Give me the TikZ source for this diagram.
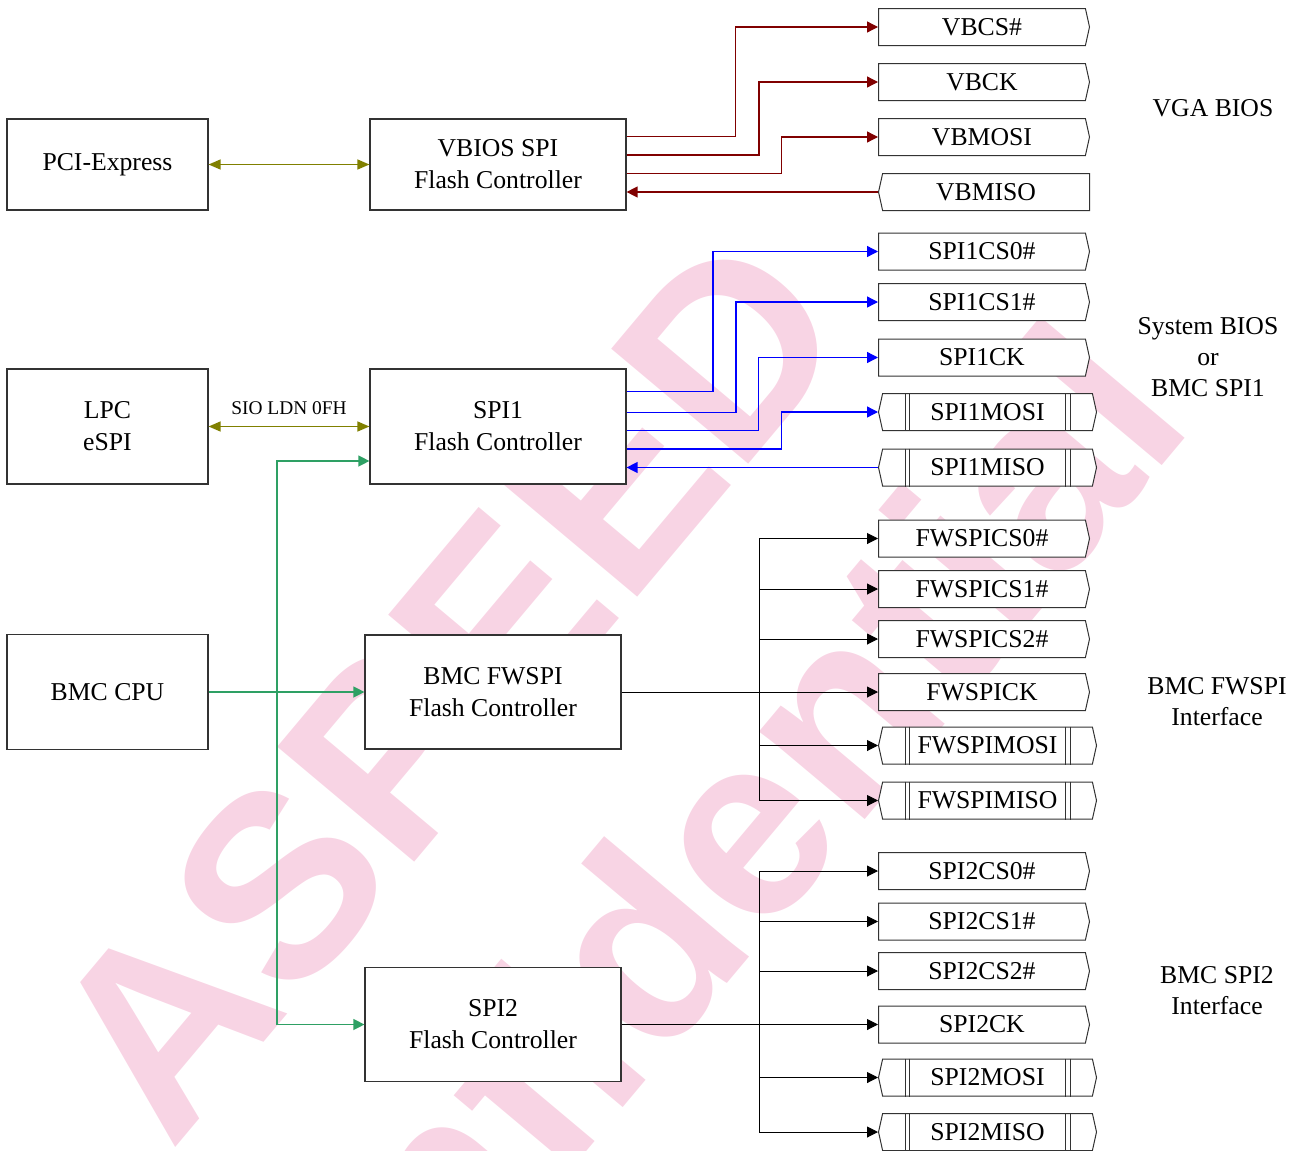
\documentclass[tikz,border=0pt]{standalone}
\usepackage{fontspec}
\setmainfont{Liberation Serif}
\newfontfamily\markfont{Liberation Sans}
\usetikzlibrary{arrows.meta,shapes.symbols}

\definecolor{vgared}{RGB}{128,0,0}
\definecolor{spiblue}{RGB}{0,0,255}
\definecolor{busolive}{RGB}{128,128,0}
\definecolor{bmcgreen}{RGB}{46,160,100}
\definecolor{markpink}{RGB}{248,212,228}

\begin{document}
\begin{tikzpicture}[
    x=0.5pt, y=-0.5pt,
    every node/.style={font=\fontsize{12.85}{16}\selectfont},
    block/.style={draw=black!80, fill=white, line width=0.6pt, align=center, minimum width=100.5pt, minimum height=57.5pt, inner sep=0pt},
    ctrl/.style={block, minimum width=128pt},
    pinout/.style={signal, signal to=east, signal pointer angle=155, draw=black!80, fill=white, line width=0.5pt, minimum width=105.5pt, minimum height=18.5pt, inner sep=0pt, anchor=west},
    pinin/.style={pinout, signal to=west},
    pinio/.style={pinout, signal to=east and west, minimum width=109pt},
    pinline/.style={draw=black!80, line width=0.5pt},
    group/.style={align=center, font=\fontsize{12.85}{15.5}\selectfont},
    watermark/.style={anchor=base, rotate=50, text=markpink, inner sep=0pt, font=\markfont\bfseries\fontsize{130}{150}\selectfont},
    wire/.style={line width=0.5pt},
    sig/.style={-{Triangle[length=5.5pt,width=5.5pt]}, line width=0.5pt},
    colsig/.style={sig, line width=0.65pt},
    olivewire/.style={{Triangle[length=6pt,width=5pt]}-{Triangle[length=6pt,width=5pt]}, line width=0.65pt, busolive}
]
\useasboundingbox (0,0) rectangle (1301,1151);

% watermark
\begin{scope}
  \clip (0,0) rectangle (1301,1151);
  \node[watermark] (wmtop) at (515,743) {ASPEED};
  \node[watermark] (wmbottom) at (714,999.5) {Confidential};
\end{scope}

% blocks
\node[block, minimum height=45.5pt] (pcie) at (107.5,164.5) {PCI-Express};
\node[ctrl, minimum height=45.5pt] (vbios) at (498,164.5) {VBIOS SPI\\Flash Controller};
\node[block] (lpc) at (107.5,426.5) {LPC\\eSPI};
\node[ctrl] (spi1) at (498,426.5) {SPI1\\Flash Controller};
\node[block] (bmccpu) at (107.5,692) {BMC CPU};
\node[ctrl, minimum height=57pt] (fwspi) at (493,692) {BMC FWSPI\\Flash Controller};
\node[ctrl, minimum height=57pt] (spi2) at (493,1024.5) {SPI2\\Flash Controller};

% pins
\node[pinout] (vbcs) at (878,27) {VBCS\#};
\node[pinout] (vbck) at (878,82) {VBCK};
\node[pinout] (vbmosi) at (878,137) {VBMOSI};
\node[pinin] (vbmiso) at (878,192) {VBMISO};

\node[pinout] (spi1cs0) at (878,251.5) {SPI1CS0\#};
\node[pinout] (spi1cs1) at (878,302) {SPI1CS1\#};
\node[pinout] (spi1ck) at (878,357.5) {SPI1CK};
\node[pinio] (spi1mosi) at (878,412) {SPI1MOSI};
\node[pinio] (spi1miso) at (878,467.5) {SPI1MISO};

\node[pinout] (fwcs0) at (878,538.5) {FWSPICS0\#};
\node[pinout] (fwcs1) at (878,589) {FWSPICS1\#};
\node[pinout] (fwcs2) at (878,639) {FWSPICS2\#};
\node[pinout] (fwck) at (878,692) {FWSPICK};
\node[pinio] (fwmosi) at (878,745.5) {FWSPIMOSI};
\node[pinio] (fwmiso) at (878,800.5) {FWSPIMISO};

\node[pinout] (spi2cs0) at (878,871) {SPI2CS0\#};
\node[pinout] (spi2cs1) at (878,921.5) {SPI2CS1\#};
\node[pinout] (spi2cs2) at (878,971) {SPI2CS2\#};
\node[pinout] (spi2ck) at (878,1024.5) {SPI2CK};
\node[pinio] (spi2mosi) at (878,1077.5) {SPI2MOSI};
\node[pinio] (spi2miso) at (878,1132) {SPI2MISO};

\foreach \p in {spi1mosi,spi1miso,fwmosi,fwmiso,spi2mosi,spi2miso} {
  \foreach \d in {13.5pt,15.75pt} {
    \draw[pinline] ([xshift=\d]\p.west |- \p.north) -- ([xshift=\d]\p.west |- \p.south);
    \draw[pinline] ([xshift=-\d]\p.east |- \p.north) -- ([xshift=-\d]\p.east |- \p.south);
  }
}

% group labels
\node[group] (vgalbl) at (1213,108) {VGA BIOS};
\node[group] (syslbl) at (1208,357) {System BIOS\\or\\BMC SPI1};
\node[group] (fwlbl) at (1217,701.5) {BMC FWSPI\\Interface};
\node[group] (spi2lbl) at (1217,990.5) {BMC SPI2\\Interface};

% host side
\draw[olivewire] (pcie.east) -- (vbios.west);
\draw[olivewire] (lpc.east) -- (spi1.west)
  node[midway, above=2.5pt, text=black, font=\fontsize{9.7}{12}\selectfont] (sioldn) {SIO LDN 0FH};

\coordinate (cpubus) at (277,692);
\draw[colsig, bmcgreen] (bmccpu.east) -- (fwspi.west);
\draw[colsig, bmcgreen] (cpubus) |- ([yshift=-17.25pt]spi1.west);
\draw[colsig, bmcgreen] (cpubus) |- (spi2.west);

% VGA BIOS
\draw[colsig, vgared] ([yshift=13.9pt]vbios.east) -| ([xshift=-71.15pt]vbcs.west) -- (vbcs.west);
\draw[colsig, vgared] ([yshift=4.75pt]vbios.east) -| ([xshift=-59.5pt]vbck.west) -- (vbck.west);
\draw[colsig, vgared] ([yshift=-4.4pt]vbios.east) -| ([xshift=-48.15pt]vbmosi.west) -- (vbmosi.west);
\draw[colsig, vgared] (vbmiso.west) -- (vbmiso.west -| vbios.east);

% SPI1
\draw[colsig, spiblue] ([yshift=17.6pt]spi1.east) -| ([xshift=-82.5pt]spi1cs0.west) -- (spi1cs0.west);
\draw[colsig, spiblue] ([yshift=7.1pt]spi1.east) -| ([xshift=-71pt]spi1cs1.west) -- (spi1cs1.west);
\draw[colsig, spiblue] ([yshift=-1.9pt]spi1.east) -| ([xshift=-59.65pt]spi1ck.west) -- (spi1ck.west);
\draw[colsig, spiblue] ([yshift=-11.25pt]spi1.east) -| ([xshift=-48.15pt]spi1mosi.west) -- (spi1mosi.west);
\draw[colsig, spiblue] (spi1miso.west) -- (spi1miso.west -| spi1.east);

% FWSPI
\coordinate (fwbus) at (759,692);
\draw[sig] (fwspi.east) -- (fwck.west);
\draw[wire] (fwbus |- fwcs0.west) -- (fwbus |- fwmiso.west);
\foreach \p in {fwcs0,fwcs1,fwcs2,fwmosi,fwmiso}
  \draw[sig] (fwbus |- \p.west) -- (\p.west);

% SPI2
\coordinate (spi2bus) at (759,1024.5);
\draw[sig] (spi2.east) -- (spi2ck.west);
\draw[wire] (spi2bus |- spi2cs0.west) -- (spi2bus |- spi2miso.west);
\foreach \p in {spi2cs0,spi2cs1,spi2cs2,spi2mosi,spi2miso}
  \draw[sig] (spi2bus |- \p.west) -- (\p.west);
\end{tikzpicture}
\end{document}
